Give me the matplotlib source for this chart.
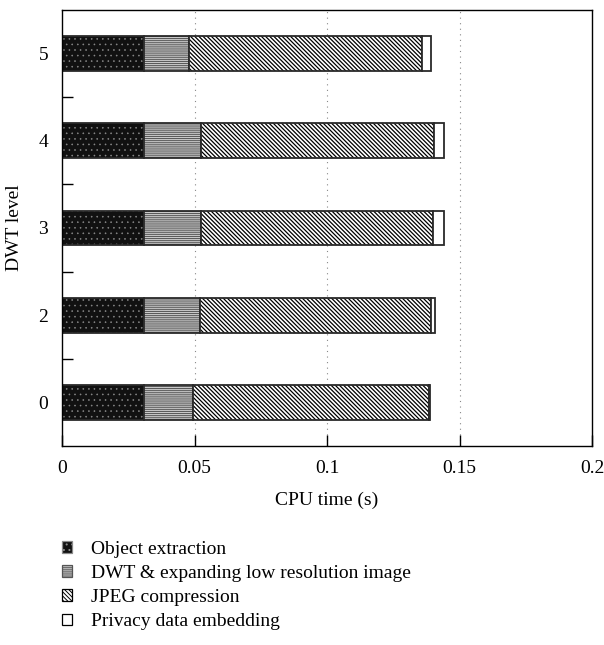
import matplotlib
matplotlib.use("Agg")
import matplotlib.pyplot as plt
import numpy as np

plt.rcParams['font.family'] = ['Liberation Serif', 'DejaVu Serif']
plt.rcParams['hatch.linewidth'] = 0.7

levels = ["0", "2", "3", "4", "5"]
object_extraction = [0.0311, 0.0311, 0.0311, 0.0311, 0.0311]
dwt_expanding = [0.0185, 0.0209, 0.0215, 0.0215, 0.0170]
jpeg_compression = [0.0889, 0.0871, 0.0873, 0.0879, 0.0876]
privacy_embedding = [0.0003, 0.0018, 0.0041, 0.0035, 0.0036]
series_names = ["Object extraction", "DWT & expanding low resolution image",
                "JPEG compression", "Privacy data embedding"]
xticks = [0, 0.05, 0.1, 0.15, 0.2]
xticklabels = ["0", "0.05", "0.1", "0.15", "0.2"]

fig = plt.figure(figsize=(6.04, 6.45), dpi=100)
ax = fig.add_axes([62/604, 1-446/645, 530/604, 436/645])

y = np.arange(len(levels))
h = 0.40
styles = [
    dict(facecolor="#111111", hatch="...", hatch_color="#8a8a8a", hlw=0.4),
    dict(facecolor="#c8c8c8", hatch="--------", hatch_color="#555555", hlw=0.7),
    dict(facecolor="white", hatch="\\\\\\\\\\\\\\\\", hatch_color="black", hlw=0.9),
    dict(facecolor="white", hatch="", hatch_color="black", hlw=0.7),
]
data = [object_extraction, dwt_expanding, jpeg_compression, privacy_embedding]
left = np.zeros(len(levels))
handles = []
for vals, st, name in zip(data, styles, series_names):
    bars = ax.barh(y, vals, height=h, left=left, facecolor=st["facecolor"],
                   edgecolor=st["hatch_color"], hatch=st["hatch"], linewidth=0, label=name)
    for p in bars.patches:
        if hasattr(p, "set_hatch_linewidth"):
            p.set_hatch_linewidth(st["hlw"])
    ax.barh(y, vals, height=h, left=left, facecolor="none",
            edgecolor="#2a2a2a", linewidth=1.3)
    handles.append(bars)
    left = left + np.array(vals)

ax.set_xlim(0, 0.2)
ax.set_ylim(-0.5, len(levels) - 0.5)
ax.set_xticks(xticks)
ax.set_xticklabels(xticklabels)
ax.set_yticks(y)
ax.set_yticklabels(levels)
ax.set_yticks(np.arange(0.5, len(levels) - 0.5, 1.0), minor=True)
ax.tick_params(axis="y", which="major", length=0, labelsize=14, pad=10)
ax.tick_params(axis="y", which="minor", length=8, direction="in", width=1)
ax.tick_params(axis="x", which="major", length=8, direction="in", width=1, labelsize=14, pad=10)
for xv in xticks[1:-1]:
    ax.axvline(xv, color="#888888", linestyle=(0, (1, 4)), linewidth=0.8, zorder=0)
for s in ax.spines.values():
    s.set_linewidth(1.0)

ax.set_xlabel("CPU time (s)", fontsize=14, labelpad=11)
ax.set_ylabel("DWT level", fontsize=14, labelpad=11)

leg = fig.legend(handles=handles, labels=series_names, loc="upper left",
                 bbox_to_anchor=(54/604, 1-533/645), frameon=False, fontsize=14,
                 handlelength=0.55, handleheight=0.55, labelspacing=0.37, handletextpad=0.95,
                 borderaxespad=0)
for p in leg.get_patches():
    p.set_linewidth(0.9)

fig.savefig("out.png", dpi=100)
